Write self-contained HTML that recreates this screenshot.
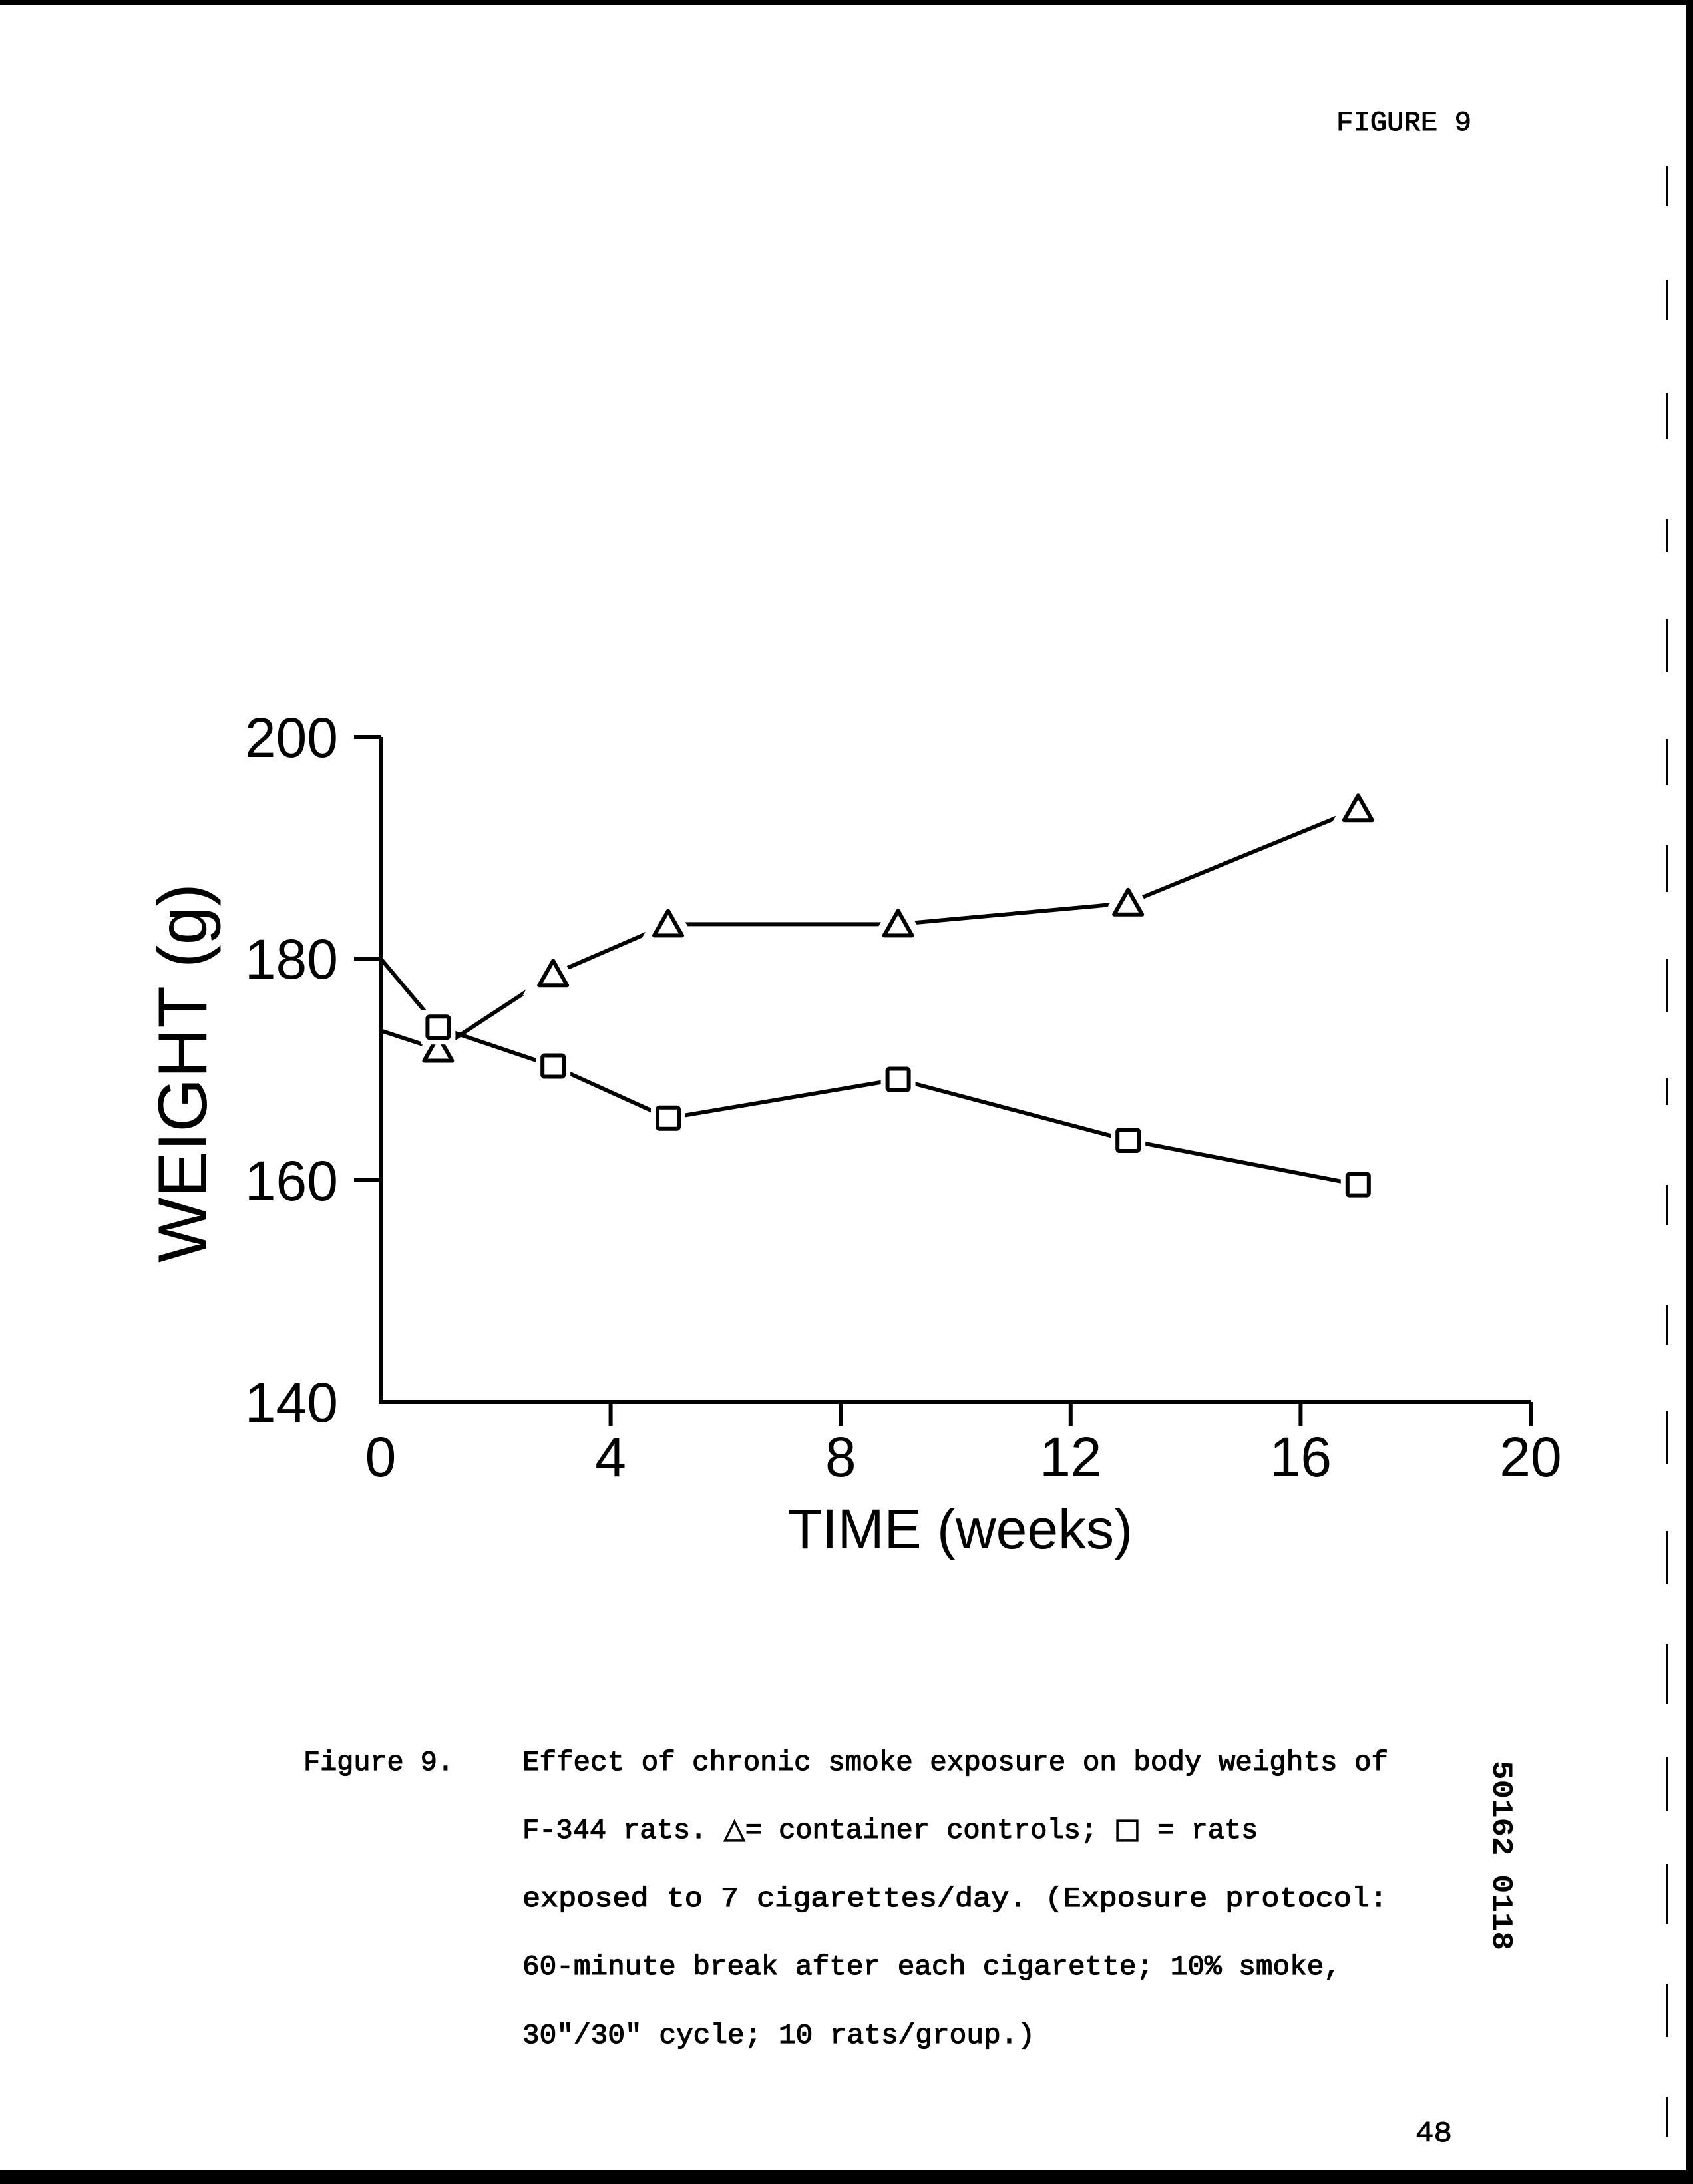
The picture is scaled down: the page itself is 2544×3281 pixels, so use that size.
<!DOCTYPE html>
<html><head><meta charset="utf-8"><style>
html,body{margin:0;padding:0;background:#fff;}
svg{display:block;}
</style></head><body>
<svg width="2544" height="3281" viewBox="0 0 2544 3281" xmlns="http://www.w3.org/2000/svg">
<rect x="0" y="0" width="2544" height="3281" fill="#fff"/>
<rect x="0" y="0" width="2544" height="8" fill="#000"/>
<rect x="0" y="3260" width="2544" height="21" fill="#000"/>
<rect x="2533" y="0" width="11" height="3281" fill="#000"/>
<g stroke="#000" stroke-width="3">
<line x1="2505" y1="250" x2="2505" y2="310"/><line x1="2505" y1="420" x2="2505" y2="480"/>
<line x1="2505" y1="590" x2="2505" y2="660"/><line x1="2505" y1="780" x2="2505" y2="830"/>
<line x1="2505" y1="930" x2="2505" y2="1010"/><line x1="2505" y1="1110" x2="2505" y2="1180"/>
<line x1="2505" y1="1270" x2="2505" y2="1340"/><line x1="2505" y1="1440" x2="2505" y2="1520"/>
<line x1="2505" y1="1620" x2="2505" y2="1660"/><line x1="2505" y1="1780" x2="2505" y2="1840"/>
<line x1="2505" y1="1960" x2="2505" y2="2020"/><line x1="2505" y1="2120" x2="2505" y2="2200"/>
<line x1="2505" y1="2300" x2="2505" y2="2380"/><line x1="2505" y1="2470" x2="2505" y2="2560"/>
<line x1="2505" y1="2640" x2="2505" y2="2720"/><line x1="2505" y1="2800" x2="2505" y2="2890"/>
<line x1="2505" y1="2980" x2="2505" y2="3060"/><line x1="2505" y1="3150" x2="2505" y2="3210"/>
</g>
<text x="2008" y="196" font-family="Liberation Mono, monospace" font-size="42" stroke="#000" stroke-width="1" textLength="203" lengthAdjust="spacingAndGlyphs">FIGURE 9</text>
<g id="chart"></g>
<text transform="translate(310,1612) rotate(-90)" text-anchor="middle" font-family="Liberation Sans, sans-serif" font-size="104">WEIGHT (g)</text>
<text x="1443" y="2326" text-anchor="middle" font-family="Liberation Sans, sans-serif" font-size="84">TIME (weeks)</text>
<g font-family="Liberation Mono, monospace" font-size="42" stroke="#000" stroke-width="1.2">
<text x="456" y="2659" textLength="226" lengthAdjust="spacingAndGlyphs">Figure 9.</text>
<text x="785" y="2659" textLength="1301" lengthAdjust="spacingAndGlyphs">Effect of chronic smoke exposure on body weights of</text>
<text x="785" y="2761">F-344 rats. <tspan font-family="DejaVu Sans, sans-serif">△</tspan>= container controls; <tspan font-family="DejaVu Sans, sans-serif">□</tspan> = rats</text>
<text x="785" y="2864" textLength="1300" lengthAdjust="spacingAndGlyphs">exposed to 7 cigarettes/day.  (Exposure protocol:</text>
<text x="785" y="2966" textLength="1230" lengthAdjust="spacingAndGlyphs">60-minute break after each cigarette; 10% smoke,</text>
<text x="785" y="3069" textLength="770" lengthAdjust="spacingAndGlyphs">30"/30" cycle; 10 rats/group.)</text>
</g>
<text transform="translate(2244,2645) rotate(90)" font-family="Liberation Mono, monospace" font-weight="bold" font-size="44" textLength="285" lengthAdjust="spacingAndGlyphs">50162 0118</text>
<text x="2127" y="3217" font-family="Liberation Mono, monospace" font-size="44" stroke="#000" stroke-width="1" textLength="55" lengthAdjust="spacingAndGlyphs">48</text>
</svg>
<script>
const weeks = [0, 1, 3, 5, 9, 13, 17];
const controls = [173.5, 171.8, 178.6, 183.1, 183.1, 185.0, 193.5];
const exposed = [180.0, 173.8, 170.3, 165.6, 169.1, 163.6, 159.6];
const xTicks = [0, 4, 8, 12, 16, 20];
const yTicks = [140, 160, 180, 200];

const NS = 'http://www.w3.org/2000/svg';
const g = document.getElementById('chart');
const X0 = 572, X1 = 2300, Y200 = 1107, Y140 = 2106;
function xs(v){ return X0 + (v - 0) / 20 * (X1 - X0); }
function ys(v){ return Y140 - (v - 140) / 60 * (Y140 - Y200); }
function mk(tag, attrs){ const e = document.createElementNS(NS, tag); for (const k in attrs) e.setAttribute(k, attrs[k]); g.appendChild(e); return e; }

const yAxis = mk('line', {x1:X0, y1:ys(200), x2:X0, y2:ys(140), stroke:'#000', 'stroke-width':6});


const xAxis = mk('line', {x1:X0-3, y1:ys(140), x2:xs(20), y2:ys(140), stroke:'#000', 'stroke-width':6});



yTicks.forEach(v => {
  if (v !== 140) {
    const t = mk('line', {x1:X0-40, y1:ys(v), x2:X0, y2:ys(v), stroke:'#000', 'stroke-width':6});
    
    
  }
  const l = mk('text', {x:X0-64, y:ys(v)+30, 'text-anchor':'end', 'font-family':'Liberation Sans, sans-serif', 'font-size':84});
  l.textContent = v;
  
  
});
xTicks.forEach(v => {
  if (v !== 0) {
    const t = mk('line', {x1:xs(v), y1:ys(140), x2:xs(v), y2:ys(140)+36, stroke:'#000', 'stroke-width':6});
    
    
  }
  const l = mk('text', {x:xs(v), y:ys(140)+112, 'text-anchor':'middle', 'font-family':'Liberation Sans, sans-serif', 'font-size':84});
  l.textContent = v;
  
  
});

function series(vals, shape, name){
  const pts = weeks.map((w,i) => xs(w)+','+ys(vals[i])).join(' ');
  const pl = mk('polyline', {points:pts, fill:'none', stroke:'#000', 'stroke-width':6, 'stroke-linejoin':'round'});
  
  
  weeks.forEach((w,i) => {
    if (w === 0) return;
    const cx = xs(w), cy = ys(vals[i]);
    let m;
    if (shape === 'tri') {
      mk('polygon', {points:`${cx},${cy-32} ${cx-32},${cy+24} ${cx+32},${cy+24}`, fill:'#fff', stroke:'#fff', 'stroke-width':16});
      m = mk('polygon', {points:`${cx},${cy-20} ${cx-21},${cy+17} ${cx+21},${cy+17}`, fill:'#fff', stroke:'#000', 'stroke-width':6, 'stroke-linejoin':'round'});
    } else {
      mk('rect', {x:cx-26, y:cy-26, width:52, height:52, fill:'#fff'});
      m = mk('rect', {x:cx-16, y:cy-16, width:32, height:32, rx:3, fill:'#fff', stroke:'#000', 'stroke-width':6});
    }
    
    
  });
}
series(controls, 'tri', 'controls');
series(exposed, 'sq', 'exposed');
</script>
</body></html>
